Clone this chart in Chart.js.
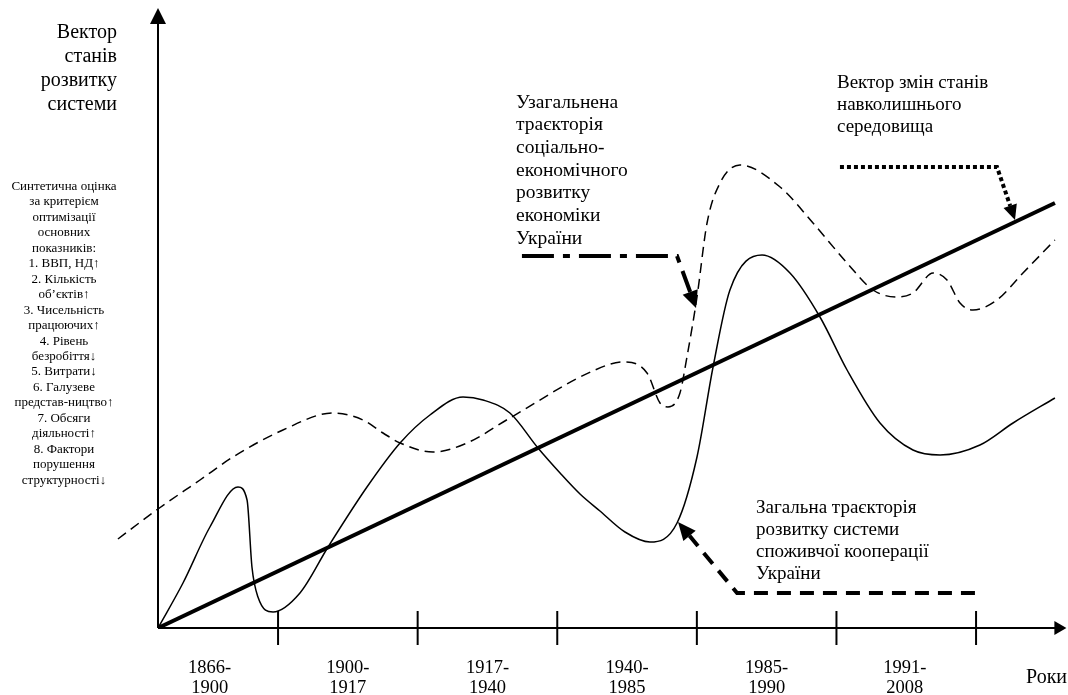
<!DOCTYPE html>
<html>
<head>
<meta charset="utf-8">
<script src="https://cdn.jsdelivr.net/npm/chart.js@4.4.1/dist/chart.umd.min.js"></script>
<style>
  html, body { margin: 0; padding: 0; background: #fff; }
  #wrap { width: 1068px; height: 695px; }
</style>
</head>
<body>
<div id="wrap"><canvas id="chart" width="1068" height="695"></canvas></div>
<script>
// ---- дані (умовні одиниці: x = періоди від початку координат, y = стан системи) ----
const periodTicks   = [0.86, 1.86, 2.86, 3.86, 4.86, 5.86];
const periodCenters = [0.37, 1.36, 2.36, 3.36, 4.36, 5.35];
const periodLabels  = [['1866-', '1900'], ['1900-', '1917'], ['1917-', '1940'],
                       ['1940-', '1985'], ['1985-', '1990'], ['1991-', '2008']];

// вектор змін станів навколишнього середовища (пряма)
const envX = [0, 6.425];
const envY = [0, 4.25];

// загальна траєкторія розвитку системи споживчої кооперації
const coopX = [0, 0.179, 0.372, 0.573, 0.638, 0.673, 0.716, 0.824, 1.017, 1.218, 1.497, 1.734,
               1.948, 2.185, 2.328, 2.521, 2.722, 2.88, 3.023, 3.166, 3.345, 3.524, 3.718,
               3.861, 3.976, 4.097, 4.327, 4.527, 4.742, 4.936, 5.172, 5.408, 5.602, 5.888,
               6.125, 6.425];
const coopY = [0, 0.45, 1.01, 1.41, 1.28, 0.61, 0.31, 0.16, 0.35, 0.81, 1.41, 1.85,
               2.13, 2.31, 2.28, 2.15, 1.80, 1.55, 1.34, 1.17, 0.96, 0.86, 1.05,
               1.71, 2.61, 3.38, 3.73, 3.55, 3.11, 2.58, 2.05, 1.78, 1.73, 1.83,
               2.05, 2.30];

// узагальнена траєкторія соціально-економічного розвитку економіки України
const econX = [-0.287, 0, 0.301, 0.537, 0.895, 1.254, 1.468, 1.612, 1.734, 1.97, 2.213, 2.521,
               3.13, 3.331, 3.503, 3.596, 3.653, 3.739, 3.789, 3.861, 3.933, 4.026, 4.169,
               4.456, 4.692, 4.936, 5.122, 5.294, 5.408, 5.552, 5.652, 5.745, 5.838, 6.01,
               6.196, 6.425];
const econY = [0.89, 1.19, 1.48, 1.71, 1.98, 2.15, 2.08, 1.95, 1.85, 1.76, 1.85, 2.10,
               2.58, 2.66, 2.55, 2.25, 2.21, 2.35, 2.71, 3.31, 4.05, 4.45, 4.63,
               4.41, 4.05, 3.65, 3.38, 3.31, 3.35, 3.55, 3.48, 3.25, 3.18, 3.28,
               3.55, 3.88];

// стрілки-виноски (у тих самих умовних одиницях)
const econArrowX = [2.607, 3.718, 3.854];
const econArrowY = [3.72, 3.72, 3.20];
const envArrowX  = [4.885, 6.01, 6.139];
const envArrowY  = [4.61, 4.61, 4.08];
const coopArrowX = [5.852, 4.148, 3.725];
const coopArrowY = [0.35, 0.35, 1.06];

const zip = (xs, ys) => xs.map((v, i) => ({ x: v, y: ys[i] }));
const SERIF = '"Liberation Serif", "Times New Roman", serif';

function arrowHead(ctx, fx, fy, tx, ty, len, half) {
    const a = Math.atan2(ty - fy, tx - fx);
    ctx.beginPath();
    ctx.moveTo(tx, ty);
    ctx.lineTo(tx - len * Math.cos(a) + half * Math.sin(a), ty - len * Math.sin(a) - half * Math.cos(a));
    ctx.lineTo(tx - len * Math.cos(a) - half * Math.sin(a), ty - len * Math.sin(a) + half * Math.cos(a));
    ctx.closePath();
    ctx.fill();
}

function callout(chart, xs, ys, dash, width, len, half) {
    const { ctx, scales: { x, y } } = chart;
    const pts = xs.map((v, i) => [x.getPixelForValue(v), y.getPixelForValue(ys[i])]);
    const n = pts.length;
    const [fx, fy] = pts[n - 2], [tx, ty] = pts[n - 1];
    const d = Math.hypot(tx - fx, ty - fy);
    const bx = tx - (tx - fx) * len / d, by = ty - (ty - fy) * len / d;
    ctx.save();
    ctx.lineWidth = width;
    ctx.setLineDash(dash);
    ctx.beginPath();
    ctx.moveTo(pts[0][0], pts[0][1]);
    for (let i = 1; i < n - 1; i++) ctx.lineTo(pts[i][0], pts[i][1]);
    ctx.lineTo(bx, by);
    ctx.stroke();
    ctx.setLineDash([]);
    arrowHead(ctx, fx, fy, tx, ty, len, half);
    ctx.restore();
}

function textBlock(ctx, lines, px, py, lh, size, align) {
    ctx.font = size + 'px ' + SERIF;
    ctx.textAlign = align;
    ctx.textBaseline = 'alphabetic';
    lines.forEach((s, i) => ctx.fillText(s, px, py + i * lh));
}

const schemePlugin = {
    id: 'scheme',
    beforeDatasetsDraw(chart) {
        const { ctx, scales: { x, y } } = chart;
        const ox = x.getPixelForValue(0), oy = y.getPixelForValue(0);
        const xTip = x.getPixelForValue(6.5) + 1, yTip = y.getPixelForValue(6.2);
        ctx.save();
        ctx.strokeStyle = '#000';
        ctx.fillStyle = '#000';
        ctx.lineWidth = 2;
        ctx.beginPath();
        ctx.moveTo(ox, oy); ctx.lineTo(ox, yTip + 12);
        ctx.moveTo(ox, oy); ctx.lineTo(xTip - 10, oy);
        ctx.stroke();
        arrowHead(ctx, ox, oy, ox, yTip, 16, 8);
        arrowHead(ctx, ox, oy, xTip, oy, 12, 7);
        periodTicks.forEach(v => {
            const px = x.getPixelForValue(v);
            ctx.beginPath();
            ctx.moveTo(px, oy - 17); ctx.lineTo(px, oy + 17);
            ctx.stroke();
        });
        ctx.restore();
    },
    afterDatasetsDraw(chart) {
        const { ctx, scales: { x, y } } = chart;
        ctx.save();
        ctx.fillStyle = '#000';
        ctx.strokeStyle = '#000';
        ctx.lineCap = 'butt';
        callout(chart, econArrowX, econArrowY, [32, 9, 7, 9], 4, 17, 8);
        callout(chart, envArrowX, envArrowY, [4, 3], 4, 15, 7);
        callout(chart, coopArrowX, coopArrowY, [14, 9], 4, 18, 8);

        // підписи періодів
        const oy = y.getPixelForValue(0);
        ctx.font = '18.5px ' + SERIF;
        ctx.textAlign = 'center';
        periodLabels.forEach((l, i) => {
            const px = x.getPixelForValue(periodCenters[i]);
            ctx.fillText(l[0], px, oy + 45);
            ctx.fillText(l[1], px, oy + 65);
        });
        textBlock(ctx, ['Роки'], 1026, 683, 0, 20, 'left');

        textBlock(ctx, ['Вектор', 'станів', 'розвитку', 'системи'], 117, 38, 24, 20, 'right');
        textBlock(ctx, ['Синтетична оцінка', 'за критерієм', 'оптимізації', 'основних', 'показників:',
                        '1. ВВП, НД↑', '2. Кількість', 'об’єктів↑', '3. Чисельність', 'працюючих↑',
                        '4. Рівень', 'безробіття↓', '5. Витрати↓', '6. Галузеве', 'представ-ництво↑',
                        '7. Обсяги', 'діяльності↑', '8. Фактори', 'порушення', 'структурності↓'],
                  64, 190, 15.45, 13, 'center');
        textBlock(ctx, ['Узагальнена', 'траєкторія', 'соціально-', 'економічного', 'розвитку',
                        'економіки', 'України'], 516, 107.5, 22.7, 19.5, 'left');
        textBlock(ctx, ['Вектор змін станів', 'навколишнього', 'середовища'], 837, 88, 22, 19, 'left');
        textBlock(ctx, ['Загальна траєкторія', 'розвитку системи', 'споживчої кооперації', 'України'],
                  756, 513, 22, 19, 'left');
        ctx.restore();
    }
};

new Chart(document.getElementById('chart'), {
    type: 'line',
    data: {
        datasets: [
            {
                label: 'Вектор змін станів навколишнього середовища',
                data: zip(envX, envY),
                borderColor: '#000', borderWidth: 4, pointRadius: 0, tension: 0
            },
            {
                label: 'Загальна траєкторія розвитку системи споживчої кооперації України',
                data: zip(coopX, coopY),
                borderColor: '#000', borderWidth: 1.5, pointRadius: 0,
                cubicInterpolationMode: 'monotone'
            },
            {
                label: 'Узагальнена траєкторія соціально-економічного розвитку економіки України',
                data: zip(econX, econY),
                borderColor: '#000', borderWidth: 1.5, pointRadius: 0, borderDash: [10, 6],
                cubicInterpolationMode: 'monotone'
            }
        ]
    },
    options: {
        responsive: false,
        animation: false,
        layout: { padding: { left: 88.2, right: 2.6, top: 8, bottom: 67 } },
        scales: {
            x: { type: 'linear', min: -0.5, max: 6.5, display: false },
            y: { type: 'linear', min: 0, max: 6.2, display: false }
        },
        plugins: { legend: { display: false }, tooltip: { enabled: false } }
    },
    plugins: [schemePlugin]
});
</script>
</body>
</html>
